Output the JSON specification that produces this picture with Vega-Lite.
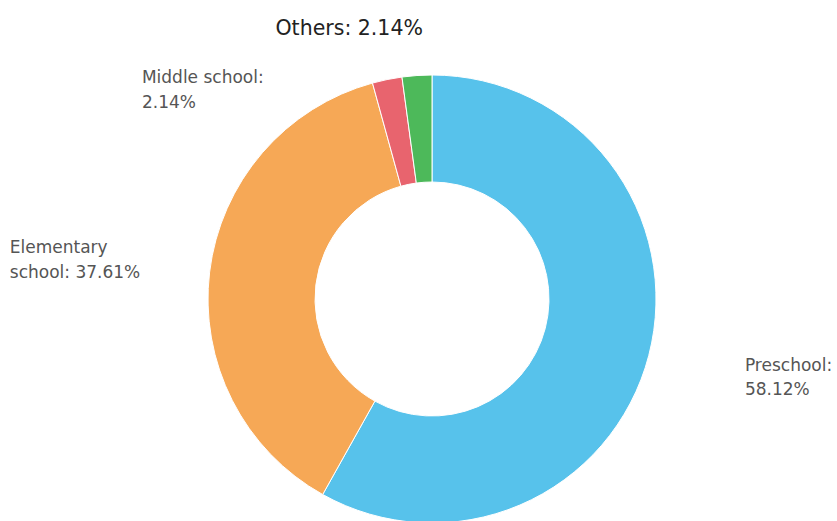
{
  "$schema": "https://vega.github.io/schema/vega-lite/v6.json",
  "width": 810,
  "height": 444,
  "autosize": "none",
  "padding": {"left": 27, "top": 77, "right": 0, "bottom": 0},
  "background": "white",
  "config": {"view": {"stroke": null}},
  "data": {
    "values": [
      {"level": "Preschool", "pct": 58.12, "ord": 1, "label": "Preschool:\n58.12%"},
      {"level": "Elementary school", "pct": 37.61, "ord": 2, "label": "Elementary\nschool: 37.61%"},
      {"level": "Middle school", "pct": 2.14, "ord": 3, "label": "Middle school:\n2.14%"},
      {"level": "Others", "pct": 2.14, "ord": 4, "label": "Others: 2.14%"}
    ]
  },
  "encoding": {
    "theta": {"field": "pct", "type": "quantitative", "stack": true},
    "order": {"field": "ord", "type": "quantitative"},
    "color": {
      "field": "level",
      "type": "nominal",
      "scale": {
        "domain": ["Preschool", "Elementary school", "Middle school", "Others"],
        "range": ["#57C2EB", "#F6A856", "#E8646E", "#4DB95A"]
      },
      "legend": null
    }
  },
  "layer": [
    {
      "mark": {"type": "arc", "outerRadius": 224, "innerRadius": 117, "stroke": "white", "strokeWidth": 1}
    },
    {
      "mark": {"type": "text", "radius": 250, "align": "left", "baseline": "middle", "dx": 71, "dy": 4, "fontSize": 17, "font": "DejaVu Sans", "lineHeight": 24, "lineBreak": "\n"},
      "encoding": {
        "text": {"condition": {"test": "datum.level === 'Preschool'", "field": "label"}, "value": ""},
        "color": {"value": "#555555"}
      }
    },
    {
      "mark": {"type": "text", "radius": 250, "align": "left", "baseline": "middle", "dx": -174, "dy": -21, "fontSize": 17, "font": "DejaVu Sans", "lineHeight": 25, "lineBreak": "\n"},
      "encoding": {
        "text": {"condition": {"test": "datum.level === 'Elementary school'", "field": "label"}, "value": ""},
        "color": {"value": "#555555"}
      }
    },
    {
      "mark": {"type": "text", "radius": 250, "align": "left", "baseline": "middle", "dx": -240, "dy": 24, "fontSize": 17, "font": "DejaVu Sans", "lineHeight": 25, "lineBreak": "\n"},
      "encoding": {
        "text": {"condition": {"test": "datum.level === 'Middle school'", "field": "label"}, "value": ""},
        "color": {"value": "#555555"}
      }
    },
    {
      "mark": {"type": "text", "radius": 250, "align": "center", "baseline": "middle", "dx": -66, "dy": -21, "fontSize": 20.5, "font": "DejaVu Sans"},
      "encoding": {
        "text": {"condition": {"test": "datum.level === 'Others'", "field": "label"}, "value": ""},
        "color": {"value": "#222222"}
      }
    }
  ]
}
